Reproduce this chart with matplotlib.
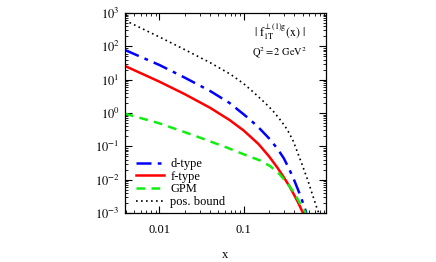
import matplotlib
matplotlib.use("Agg")
import matplotlib.pyplot as plt
from matplotlib.ticker import LogLocator, NullFormatter, FixedLocator, FixedFormatter

plt.rcParams['font.family'] = ['Liberation Serif', 'DejaVu Serif']
plt.rcParams['mathtext.fontset'] = 'stix'

# values (x, and log10 of the curve value)
# d-type
x_d = [0.0039, 0.01, 0.02, 0.04, 0.068, 0.1, 0.118, 0.15, 0.2, 0.25, 0.3, 0.35, 0.4, 0.45, 0.5, 0.555]
ly_d = [1.89, 1.44, 1.06, 0.66, 0.30, -0.04, -0.19, -0.43, -0.76, -1.06, -1.36, -1.70, -2.03, -2.35, -2.66, -3.0]
# f-type
x_f = [0.0039, 0.01, 0.02, 0.04, 0.068, 0.1, 0.15, 0.2, 0.25, 0.3, 0.35, 0.4, 0.45, 0.5, 0.51]
ly_f = [1.41, 0.94, 0.565, 0.155, -0.21, -0.525, -0.93, -1.30, -1.63, -1.93, -2.20, -2.47, -2.72, -2.97, -3.0]
# GPM
x_g = [0.0039, 0.01, 0.0249, 0.0622, 0.1077, 0.155, 0.204, 0.245, 0.268, 0.308, 0.353, 0.386, 0.424, 0.464, 0.508, 0.547]
ly_g = [-0.02, -0.31, -0.66, -1.03, -1.27, -1.42, -1.585, -1.745, -1.84, -2.02, -2.21, -2.35, -2.52, -2.70, -2.87, -3.0]
# positivity bound
x_p = [0.0039, 0.01, 0.02, 0.04, 0.07, 0.1, 0.13, 0.18, 0.2234, 0.281, 0.33, 0.386, 0.424, 0.5, 0.583, 0.65, 0.734, 0.78]
ly_p = [2.78, 2.28, 1.90, 1.51, 1.16, 0.88, 0.63, 0.30, 0.06, -0.25, -0.50, -0.83, -1.10, -1.58, -2.05, -2.42, -2.82, -3.0]

y_d = [10 ** v for v in ly_d]
y_f = [10 ** v for v in ly_f]
y_g = [10 ** v for v in ly_g]
y_p = [10 ** v for v in ly_p]

labels = ["d-type", "f-type", "GPM", "pos. bound"]
xticks = [0.01, 0.1]
xticklabels = ["0.01", "0.1"]
yticks = [1e-3, 1e-2, 1e-1, 1e0, 1e1, 1e2, 1e3]
yticklabels = [r"$10^{-3}$", r"$10^{-2}$", r"$10^{-1}$", r"$10^{0}$", r"$10^{1}$", r"$10^{2}$", r"$10^{3}$"]

fig = plt.figure(figsize=(4.36, 2.62), dpi=100)
ax = fig.add_axes([125/436, 1-213/262, 201/436, 200/262])

ax.plot(x_d, y_d, color='#0000ff', lw=1.8, dashes=(6, 2.5, 1.5, 2.5), label=labels[0])
ax.plot(x_f, y_f, color='#ff0000', lw=1.8, label=labels[1])
ax.plot(x_g, y_g, color='#11ee11', lw=1.8, dashes=(3.5, 2.5), label=labels[2])
ax.plot(x_p, y_p, color='black', lw=1.2, dashes=(1, 2), label=labels[3])

ax.set_xscale('log')
ax.set_yscale('log')
ax.set_xlim(0.0039, 0.95)
ax.set_ylim(1e-3, 1e3)

ax.xaxis.set_major_locator(FixedLocator(xticks))
ax.xaxis.set_major_formatter(FixedFormatter(xticklabels))
ax.xaxis.set_minor_locator(LogLocator(base=10, subs=range(2, 10), numticks=20))
ax.xaxis.set_minor_formatter(NullFormatter())
ax.yaxis.set_major_locator(FixedLocator(yticks))
ax.yaxis.set_major_formatter(FixedFormatter(yticklabels))
ax.yaxis.set_minor_locator(LogLocator(base=10, subs=range(2, 10), numticks=20))
ax.yaxis.set_minor_formatter(NullFormatter())

ax.tick_params(which='both', direction='in', top=True, right=True, labelsize=9)
ax.tick_params(which='major', length=5, width=0.8)
ax.tick_params(which='minor', length=2.5, width=0.6)
ax.tick_params(axis='x', pad=8)
ax.tick_params(axis='y', pad=4)
for s in ax.spines.values():
    s.set_linewidth(0.9)

ax.set_xlabel("x", fontsize=9, labelpad=9)

ax.text(0.77, 0.905, r"$|\ \mathrm{f}_{1\mathrm{T}}^{\perp(1)\mathrm{g}}(\mathrm{x})\ |$", transform=ax.transAxes,
        ha='center', va='center', fontsize=8.5)
ax.text(0.77, 0.80, r"$\mathrm{Q}^2 = 2\ \mathrm{GeV}^2$", transform=ax.transAxes,
        ha='center', va='center', fontsize=7.5)

ax.legend(loc='lower left', frameon=False, fontsize=9, handlelength=2.2, handletextpad=0.55,
          labelspacing=0.05, borderaxespad=0.2, borderpad=0.2, bbox_to_anchor=(0.03, 0.0))

fig.savefig("out.png", dpi=100)
